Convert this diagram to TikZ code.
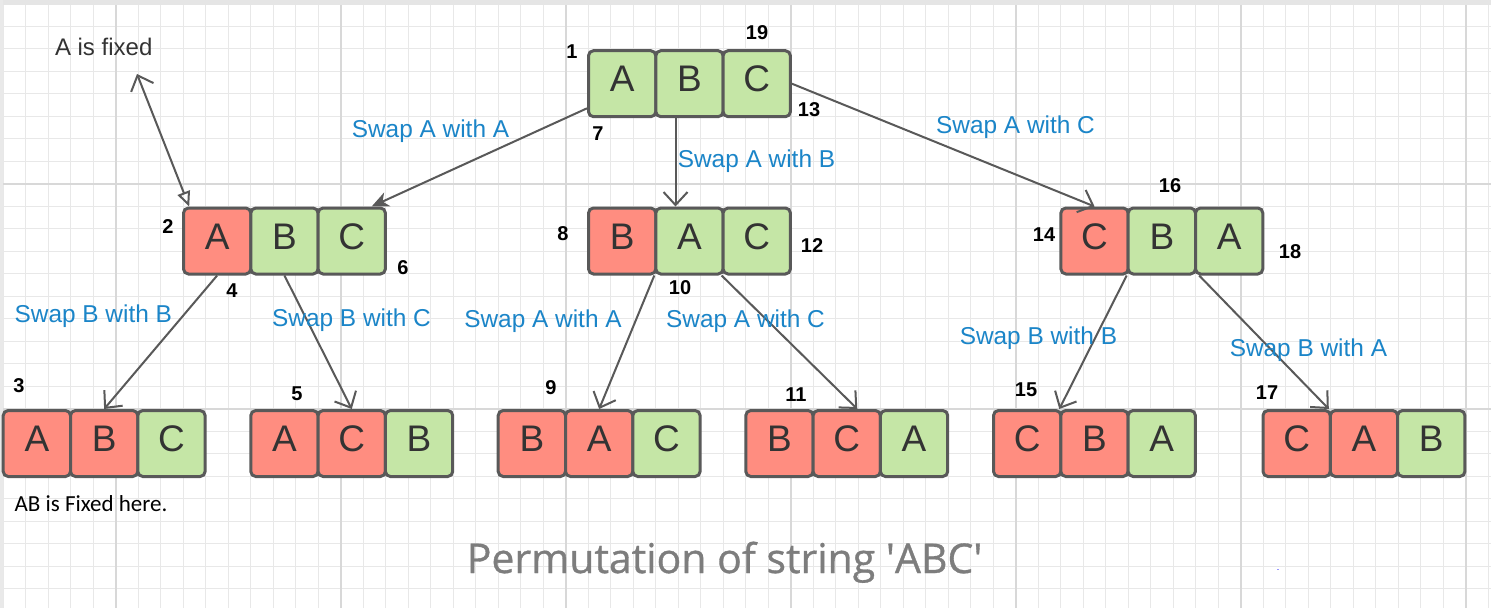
\documentclass[tikz,border=0pt]{standalone}
\usepackage{fontspec}
\setmainfont{Liberation Sans}
\newfontfamily\notefont{Carlito}
\newfontfamily\titlefont[FakeBold=0.8]{Open Sans}
\usetikzlibrary{arrows.meta, positioning, calc}
\definecolor{cellred}{RGB}{255,141,128}
\definecolor{cellgreen}{RGB}{197,230,166}
\definecolor{edgegray}{RGB}{89,89,89}
\definecolor{swapblue}{RGB}{27,133,200}
\definecolor{gridminor}{RGB}{232,232,232}
\definecolor{gridmajor}{RGB}{216,216,216}
\definecolor{titlegray}{RGB}{125,125,125}
\definecolor{lettergray}{RGB}{51,51,51}

\tikzset{
  cell/.style={draw=edgegray, line width=3pt, rounded corners=5pt, minimum width=67.3pt, minimum height=66pt,
    inner sep=0pt, text height=26.5pt, text depth=10pt, text=lettergray, font=\fontsize{37}{37}\selectfont},
  swap/.style={anchor=base, text=swapblue, font=\fontsize{24.4}{25}\selectfont},
  idx/.style={font=\fontsize{20}{20}\selectfont\bfseries},
  link/.style={draw=edgegray, line width=2pt, -{Straight Barb[length=13pt,width=24pt]}},
}

\newcommand{\permrow}[4]{%
  \foreach \ch/\col [count=\i] in {#4}
    \node[cell, fill=\col] (#1-\i) at ({#2+1.5+(\i-0.5)*67.3}, #3) {\ch};
}

\begin{document}
\begin{tikzpicture}[x=1pt, y=-1pt]
  \useasboundingbox (0,0) rectangle (1491,608);
  \fill[white] (0,0) rectangle (1491,608);
  \foreach \k in {0,...,66}
    \draw[gridminor, line width=1.2pt] ({3.2+\k*22.5},0) -- ({3.2+\k*22.5},608);
  \foreach \k in {0,...,26}
    \draw[gridminor, line width=1.2pt] (0,{3.7+\k*22.5}) -- (1491,{3.7+\k*22.5});
  \foreach \k in {0,...,6}
    \draw[gridmajor, line width=1.6pt] ({115.7+\k*225},0) -- ({115.7+\k*225},608);
  \foreach \y in {183.7,408.7}
    \draw[gridmajor, line width=1.6pt] (0,\y) -- (1491,\y);
  \fill[gray!20] (0,0) rectangle (1491,5);
  \fill[gray!17] (0,0) rectangle (3,608);

  \permrow{root}{587}{83.7}{A/cellgreen,B/cellgreen,C/cellgreen}
  \permrow{lft}{182}{241}{A/cellred,B/cellgreen,C/cellgreen}
  \permrow{mid}{587}{241}{B/cellred,A/cellgreen,C/cellgreen}
  \permrow{rgt}{1059.4}{241}{C/cellred,B/cellgreen,A/cellgreen}
  \permrow{abc}{1.7}{443.5}{A/cellred,B/cellred,C/cellgreen}
  \permrow{acb}{249.3}{443.5}{A/cellred,C/cellred,B/cellgreen}
  \permrow{bac}{496.7}{443.5}{B/cellred,A/cellred,C/cellgreen}
  \permrow{bca}{744.3}{443.5}{B/cellred,C/cellred,A/cellgreen}
  \permrow{cba}{992}{443.5}{C/cellred,B/cellred,A/cellgreen}
  \permrow{cab}{1261.5}{443.5}{C/cellred,A/cellred,B/cellgreen}

  \node[anchor=base, text=lettergray, font=\fontsize{24}{24}\selectfont] (fixA) at (103.7,55) {A is fixed};
  \coordinate (fixtip) at (137,74);
  \draw[draw=edgegray, line width=2pt, {Straight Barb[length=13pt,width=24pt]}-{Triangle[open,length=15pt,width=13pt]}] (fixtip) -- (lft-1.129);

  \draw[link, -{Stealth[length=17pt,width=15pt,inset=5pt]}] (root-1.215) -- (lft-3.60);
  \draw[link] (root-2.248) -- (mid-2.112);
  \draw[link] (root-3.east) -- (rgt-1.north);
  \draw[link] (lft-1.south) -- (abc-2.north);
  \draw[link] (lft-2.south) -- (acb-2.north);
  \draw[link] (mid-2.south west) -- (bac-2.north);
  \draw[link] (mid-3.south west) -- (bca-2.73);
  \draw[link] (rgt-2.south west) -- (cba-2.north west);
  \draw[link] (rgt-3.229) -- (cab-2.north west);

  \node[swap] (swAA) at (430.5,137) {Swap A with A};
  \node[swap] (swAB) at (756.5,167) {Swap A with B};
  \node[swap] (swAC) at (1015.5,133.3) {Swap A with C};
  \node[swap] (swBB) at (93.3,322.3) {Swap B with B};
  \node[swap] (swBC) at (351.5,326.7) {Swap B with C};
  \node[swap] (swAA2) at (543,327.3) {Swap A with A};
  \node[swap] (swAC2) at (745.5,327.3) {Swap A with C};
  \node[swap] (swBB2) at (1038.4,344) {Swap B with B};
  \node[swap] (swBA) at (1308.4,356) {Swap B with A};

  \node[idx] (n1) at (572,52) {1};
  \node[idx] (n2) at (168,227) {2};
  \node[idx] (n3) at (19,386) {3};
  \node[idx] (n4) at (232,291) {4};
  \node[idx] (n5) at (297,394) {5};
  \node[idx] (n6) at (403,268) {6};
  \node[idx] (n7) at (598,134) {7};
  \node[idx] (n8) at (563,234) {8};
  \node[idx] (n9) at (551,388) {9};
  \node[idx] (n10) at (680,288) {10};
  \node[idx] (n11) at (796,395) {11};
  \node[idx] (n12) at (812,246) {12};
  \node[idx] (n13) at (809,110) {13};
  \node[idx] (n14) at (1044,235) {14};
  \node[idx] (n15) at (1026,390) {15};
  \node[idx] (n16) at (1170,186) {16};
  \node[idx] (n17) at (1267,393) {17};
  \node[idx] (n18) at (1290,252) {18};
  \node[idx] (n19) at (757,33) {19};

  \node[anchor=base, font=\notefont\fontsize{23}{23}\selectfont] (fixAB) at (91,511.7) {AB is Fixed here.};
  \node[anchor=base, text=titlegray, font=\titlefont\fontsize{41}{41}\selectfont] (title) at (724.6,573) {Permutation of string \textquotesingle ABC\textquotesingle};
  \node[anchor=base, text=blue, inner sep=0pt, font=\fontsize{9}{9}\selectfont] (dot) at (1278,570) {.};
\end{tikzpicture}
\end{document}
